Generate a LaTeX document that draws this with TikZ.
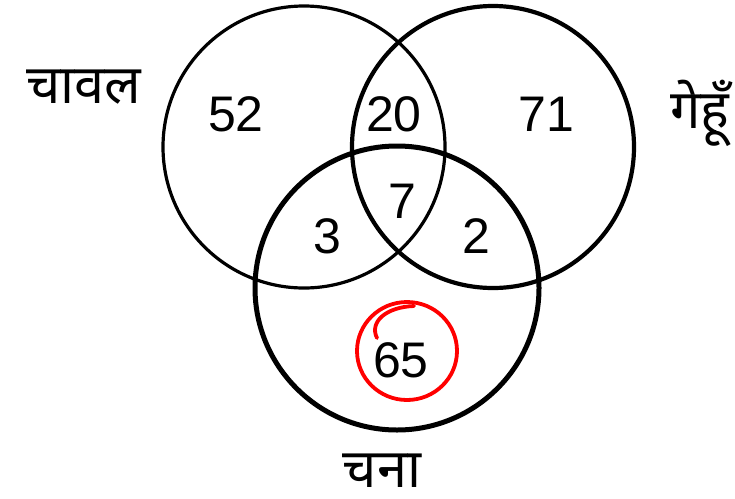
\documentclass[tikz,border=0pt]{standalone}
\usepackage{fontspec}
\setmainfont{Liberation Sans}
\newfontfamily\deva[Script=Devanagari]{Noto Sans}
\begin{document}
\begin{tikzpicture}[x=1pt,y=-1pt,
  num/.style={inner sep=0pt, font=\fontsize{50}{60}\selectfont},
  lab/.style={inner sep=0pt, anchor=base, font=\deva\fontsize{54}{60}\selectfont},
  ring/.style={draw=black}]
\useasboundingbox (0,0) rectangle (735,498);
\fill[white] (0,0) rectangle (735,498);
% circles
\draw[ring, line width=3.2pt] (304,147) circle (141);
\draw[ring, line width=4.2pt] (493,147) circle (141);
\draw[ring, line width=5pt] (397,288) circle (142);
% numbers
\node[num] (n52) at (236,114) {52};
\node[num] (n20) at (394,114) {20};
\node[num] (n71) at (546,114) {71};
\node[num] (n7)  at (402,201) {7};
\node[num] (n3)  at (327,236) {3};
\node[num] (n2)  at (476,236) {2};
\node[num] (n65) at (401,360) {65};
% labels
\node[lab] (chawal) at (84,103) {चावल};
\node[lab] (gehun)  at (700,128) {गेहूँ};
\node[lab] (chana)  at (382,487) {चना};
% red hand-drawn circle
\draw[red, line width=3.8pt, line cap=round] (407,351) ellipse (50 and 49);
\draw[red, line width=3.8pt, line cap=round]
  (377,338) .. controls (369,322) and (386,307) .. (414,306);
\end{tikzpicture}
\end{document}
